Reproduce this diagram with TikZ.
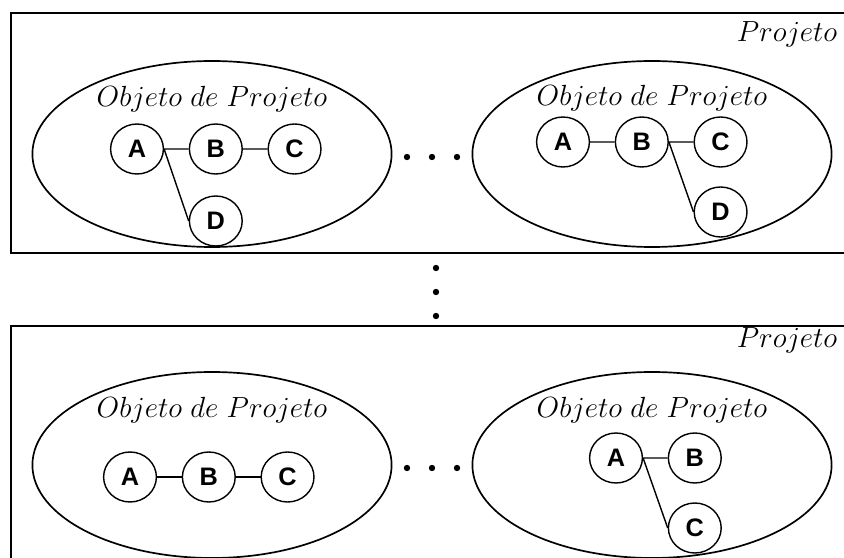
\documentclass[tikz,border=0pt]{standalone}
\usepackage{amsmath}
\usepackage{fontspec}
\setsansfont{Liberation Sans}
\usetikzlibrary{shapes.geometric}

\begin{document}
\begin{tikzpicture}[line width=1pt,node distance=1.97cm]
  \tikzstyle{vertex}=[ellipse,draw,minimum width=1.32cm,minimum height=1.25cm,inner sep=0pt,font=\fontsize{18}{20}\selectfont\sffamily\bfseries]
  \tikzstyle{objeto}=[ellipse,draw,line width=1.2pt,minimum width=8.98cm,minimum height=4.65cm]
  \tikzstyle{rotulo}=[anchor=base,inner sep=0pt,font=\fontsize{19.6}{22}\selectfont]
  \tikzstyle{projeto}=[anchor=base east,inner sep=0pt,font=\fontsize{19.6}{22}\selectfont]
  \useasboundingbox (0,0) rectangle (21.1,-13.95);
  \clip (0,0) rectangle (21.1,-13.95);

  % os dois projetos
  \draw [line width=1.6pt] (0.275,-0.325) rectangle (22,-6.325);
  \draw [line width=1.6pt] (0.275,-8.15) rectangle (22,-15);
  \node [projeto] (p1) at (20.95,-1.05) {$Projeto$};
  \node [projeto] (p2) at (20.95,-8.675) {$Projeto$};

  % objetos de projeto
  \node [objeto] (o1) at (5.3,-3.85) {};
  \node [objeto] (o2) at (16.3,-3.85) {};
  \node [objeto] (o3) at (5.3,-11.625) {};
  \node [objeto] (o4) at (16.3,-11.625) {};
  \node [rotulo] (t1) at (5.3,-2.675) {$Objeto\ de\ Projeto$};
  \node [rotulo] (t2) at (16.3,-2.65) {$Objeto\ de\ Projeto$};
  \node [rotulo] (t3) at (5.3,-10.425) {$Objeto\ de\ Projeto$};
  \node [rotulo] (t4) at (16.3,-10.425) {$Objeto\ de\ Projeto$};

  % primeiro objeto
  \node [vertex] (A1) at (3.425,-3.725) {A};
  \node [vertex] (B1) [right of=A1] {B};
  \node [vertex] (C1) [right of=B1] {C};
  \node [vertex] (D1) [below of=B1,node distance=1.8cm] {D};
  \draw (A1.east) -- (B1.west) (B1.east) -- (C1.west) (A1.east) -- (D1.west);

  % segundo objeto
  \node [vertex] (A2) at (14.075,-3.55) {A};
  \node [vertex] (B2) [right of=A2] {B};
  \node [vertex] (C2) [right of=B2] {C};
  \node [vertex] (D2) [below of=C2,node distance=1.75cm] {D};
  \draw (A2.east) -- (B2.west) (B2.east) -- (C2.west) (B2.east) -- (D2.west);

  % terceiro objeto
  \node [vertex] (A3) at (3.25,-11.925) {A};
  \node [vertex] (B3) [right of=A3] {B};
  \node [vertex] (C3) [right of=B3] {C};
  \draw (A3.east) -- (B3.west) (B3.east) -- (C3.west);

  % quarto objeto
  \node [vertex] (A4) at (15.4,-11.45) {A};
  \node [vertex] (B4) [right of=A4] {B};
  \node [vertex] (C4) [below of=B4,node distance=1.75cm] {C};
  \draw (A4.east) -- (B4.west) (A4.east) -- (C4.west);

  % reticencias
  \foreach \x in {10.175,10.8,11.425} {
    \fill (\x,-3.925) circle (0.08);
    \fill (\x,-11.7) circle (0.08);
  }
  \foreach \y in {-6.7,-7.3,-7.9}
    \fill (10.9,\y) circle (0.08);
\end{tikzpicture}
\end{document}
